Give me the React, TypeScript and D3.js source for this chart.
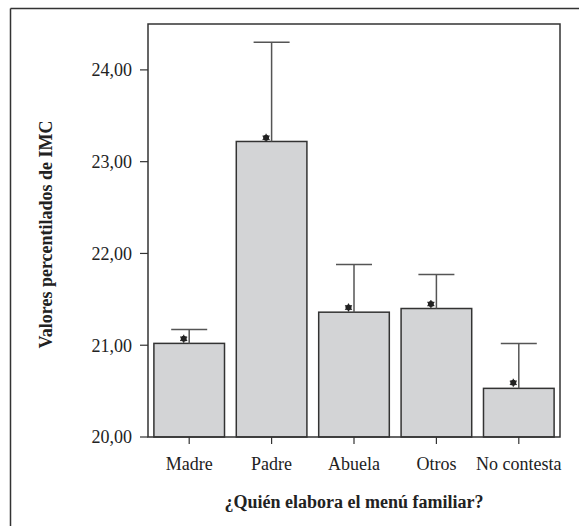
import React, { useMemo } from 'react';
import * as d3 from 'd3';

const WIDTH = 579;
const HEIGHT = 526;
const MARGIN = { top: 24, right: 19, bottom: 89, left: 148 };

const CATEGORIES = ['Madre', 'Padre', 'Abuela', 'Otros', 'No contesta'];
const MEANS = [21.02, 23.22, 21.36, 21.4, 20.53];
const UPPER = [21.17, 24.3, 21.88, 21.77, 21.02];
const MARKS = [21.07, 23.26, 21.41, 21.45, 20.59];
const Y_TICKS = [20, 21, 22, 23, 24];

const FONT = "'Liberation Serif', 'Times New Roman', Times, serif";
const INK = '#333';

export default function App() {
  const { x, y } = useMemo(() => {
    const x = d3
      .scaleBand<string>()
      .domain(CATEGORIES)
      .range([MARGIN.left, WIDTH - MARGIN.right])
      .paddingInner(0.143)
      .paddingOuter(0.0715);
    const y = d3
      .scaleLinear()
      .domain([20, 24.5])
      .range([HEIGHT - MARGIN.bottom, MARGIN.top]);
    return { x, y };
  }, []);

  const left = MARGIN.left;
  const right = WIDTH - MARGIN.right;
  const top = MARGIN.top;
  const bottom = HEIGHT - MARGIN.bottom;
  const star = d3.symbol(d3.symbolAsterisk, 45)() ?? '';

  return (
    <svg
      width={WIDTH}
      height={HEIGHT}
      style={{ position: 'absolute', left: 0, top: 0, background: '#fff', fontFamily: FONT }}
    >
      {/* cropped outer figure frame */}
      <line x1={10.5} x2={WIDTH} y1={8.5} y2={8.5} stroke={INK} strokeWidth={1.5} />
      <line x1={10.5} x2={10.5} y1={8.5} y2={HEIGHT} stroke={INK} strokeWidth={1.5} />

      {/* bars */}
      {CATEGORIES.map((c, i) => (
        <rect
          key={`bar-${c}`}
          x={x(c)}
          y={y(MEANS[i])}
          width={x.bandwidth()}
          height={bottom - y(MEANS[i])}
          fill="#d3d4d6"
          stroke={INK}
          strokeWidth={1.5}
        />
      ))}

      {/* error bars */}
      {CATEGORIES.map((c, i) => {
        const cx = (x(c) ?? 0) + x.bandwidth() / 2;
        return (
          <g key={`err-${c}`} stroke="#555" strokeWidth={1.5}>
            <line x1={cx} x2={cx} y1={y(MEANS[i])} y2={y(UPPER[i])} />
            <line x1={cx - 18} x2={cx + 18} y1={y(UPPER[i])} y2={y(UPPER[i])} />
          </g>
        );
      })}

      {/* markers */}
      {CATEGORIES.map((c, i) => {
        const cx = (x(c) ?? 0) + x.bandwidth() / 2 - 5.5;
        return (
          <g key={`mk-${c}`} transform={`translate(${cx},${y(MARKS[i])})`}>
            <circle r={3} fill="#222" />
            <path d={star} fill="none" stroke="#222" strokeWidth={1.1} />
          </g>
        );
      })}

      {/* plot frame */}
      <rect
        x={left}
        y={top}
        width={right - left}
        height={bottom - top}
        fill="none"
        stroke={INK}
        strokeWidth={1.5}
      />

      {/* y axis */}
      {Y_TICKS.map((t) => (
        <g key={`yt-${t}`}>
          <line x1={left - 8} x2={left} y1={y(t)} y2={y(t)} stroke={INK} strokeWidth={1.2} />
          <text
            x={left - 16}
            y={y(t)}
            dy="0.36em"
            textAnchor="end"
            fontSize={18}
            fill="#222"
          >
            {t.toFixed(2).replace('.', ',')}
          </text>
        </g>
      ))}

      {/* x axis */}
      {CATEGORIES.map((c) => {
        const cx = (x(c) ?? 0) + x.bandwidth() / 2;
        return (
          <g key={`xt-${c}`}>
            <line x1={cx} x2={cx} y1={bottom} y2={bottom + 7} stroke={INK} strokeWidth={1.2} />
            <text x={cx} y={bottom + 33} textAnchor="middle" fontSize={18} fill="#222">
              {c}
            </text>
          </g>
        );
      })}

      <text
        x={(left + right) / 2}
        y={508}
        textAnchor="middle"
        fontSize={18}
        fontWeight="bold"
        fill="#222"
      >
        ¿Quién elabora el menú familiar?
      </text>
      <text
        transform={`translate(52,${(top + bottom) / 2 + 4}) rotate(-90)`}
        textAnchor="middle"
        fontSize={18}
        fontWeight="bold"
        fill="#222"
      >
        Valores percentilados de IMC
      </text>
    </svg>
  );
}
